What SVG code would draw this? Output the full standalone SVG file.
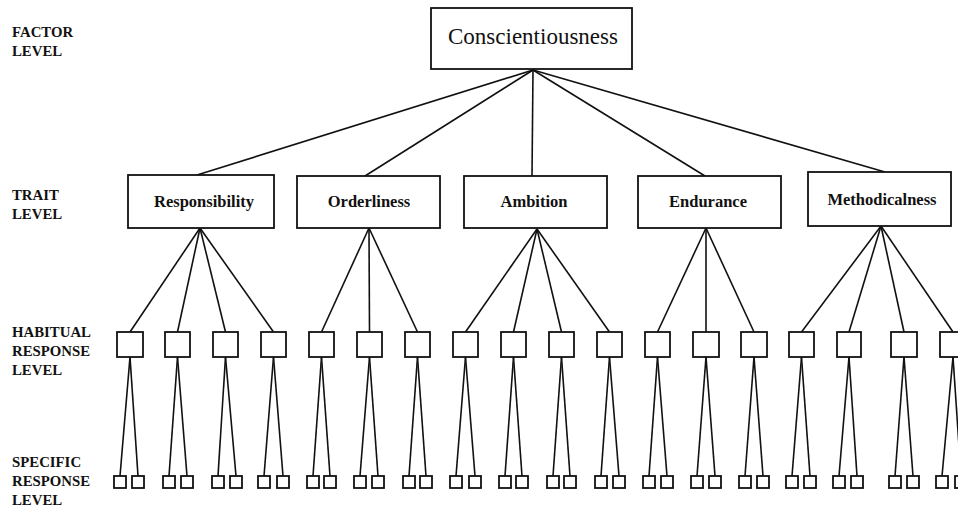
<svg xmlns="http://www.w3.org/2000/svg" width="958" height="508" viewBox="0 0 958 508">
<style>
.box{fill:#fff;stroke:#111;stroke-width:1.8}
.lbl{font-family:"Liberation Serif","Times New Roman",serif;font-size:14.8px;font-weight:bold;fill:#111}
.trait{font-family:"Liberation Serif","Times New Roman",serif;font-size:16.5px;font-weight:bold;fill:#111;text-anchor:middle}
.top{font-family:"Liberation Serif","Times New Roman",serif;font-size:23px;fill:#111;text-anchor:middle}
.conn line{stroke:#111;stroke-width:1.6}
</style>
<rect width="958" height="508" fill="#fff"/>
<g id="level-labels">
<text class="lbl" x="12" y="37">FACTOR</text>
<text class="lbl" x="12" y="56">LEVEL</text>
<text class="lbl" x="12" y="200">TRAIT</text>
<text class="lbl" x="12" y="219">LEVEL</text>
<text class="lbl" x="12" y="337">HABITUAL</text>
<text class="lbl" x="12" y="356">RESPONSE</text>
<text class="lbl" x="12" y="375">LEVEL</text>
<text class="lbl" x="12" y="467">SPECIFIC</text>
<text class="lbl" x="12" y="486">RESPONSE</text>
<text class="lbl" x="12" y="505">LEVEL</text>
</g>
<g class="conn" id="connectors">
<line x1="533" y1="70" x2="197" y2="175"/>
<line x1="533" y1="70" x2="365" y2="176"/>
<line x1="533" y1="70" x2="532" y2="176"/>
<line x1="533" y1="70" x2="705" y2="176"/>
<line x1="533" y1="70" x2="885" y2="172"/>
<line x1="200" y1="228" x2="130" y2="332"/>
<line x1="200" y1="228" x2="177.5" y2="332"/>
<line x1="200" y1="228" x2="225.5" y2="332"/>
<line x1="200" y1="228" x2="273.5" y2="332"/>
<line x1="369" y1="228" x2="321.5" y2="332"/>
<line x1="369" y1="228" x2="369.5" y2="332"/>
<line x1="369" y1="228" x2="417.5" y2="332"/>
<line x1="537" y1="229" x2="465.5" y2="332"/>
<line x1="537" y1="229" x2="513.5" y2="332"/>
<line x1="537" y1="229" x2="561.5" y2="332"/>
<line x1="537" y1="229" x2="609.5" y2="332"/>
<line x1="706" y1="228" x2="657.5" y2="332"/>
<line x1="706" y1="228" x2="706" y2="332"/>
<line x1="706" y1="228" x2="754" y2="332"/>
<line x1="881" y1="226" x2="801.5" y2="332"/>
<line x1="881" y1="226" x2="849" y2="332"/>
<line x1="881" y1="226" x2="904" y2="332"/>
<line x1="881" y1="226" x2="953" y2="332"/>
<line x1="130" y1="357" x2="120" y2="476"/><line x1="130" y1="357" x2="138" y2="476"/>
<line x1="177.5" y1="357" x2="169" y2="476"/><line x1="177.5" y1="357" x2="187" y2="476"/>
<line x1="225.5" y1="357" x2="218" y2="476"/><line x1="225.5" y1="357" x2="236" y2="476"/>
<line x1="273.5" y1="357" x2="264" y2="476"/><line x1="273.5" y1="357" x2="283" y2="476"/>
<line x1="321.5" y1="357" x2="313" y2="476"/><line x1="321.5" y1="357" x2="330" y2="476"/>
<line x1="369.5" y1="357" x2="360" y2="476"/><line x1="369.5" y1="357" x2="378" y2="476"/>
<line x1="417.5" y1="357" x2="409" y2="476"/><line x1="417.5" y1="357" x2="426" y2="476"/>
<line x1="465.5" y1="357" x2="456" y2="476"/><line x1="465.5" y1="357" x2="475" y2="476"/>
<line x1="513.5" y1="357" x2="505" y2="476"/><line x1="513.5" y1="357" x2="522" y2="476"/>
<line x1="561.5" y1="357" x2="553" y2="476"/><line x1="561.5" y1="357" x2="570" y2="476"/>
<line x1="609.5" y1="357" x2="601" y2="476"/><line x1="609.5" y1="357" x2="619" y2="476"/>
<line x1="657.5" y1="357" x2="649" y2="476"/><line x1="657.5" y1="357" x2="667" y2="476"/>
<line x1="706" y1="357" x2="697" y2="476"/><line x1="706" y1="357" x2="715" y2="476"/>
<line x1="754" y1="357" x2="745" y2="476"/><line x1="754" y1="357" x2="763" y2="476"/>
<line x1="801.5" y1="357" x2="792" y2="476"/><line x1="801.5" y1="357" x2="810" y2="476"/>
<line x1="849" y1="357" x2="839" y2="476"/><line x1="849" y1="357" x2="857" y2="476"/>
<line x1="904" y1="357" x2="895" y2="476"/><line x1="904" y1="357" x2="913" y2="476"/>
<line x1="953" y1="357" x2="942" y2="476"/><line x1="953" y1="357" x2="961" y2="476"/>
</g>
<g id="factor-conscientiousness">
<rect class="box" x="431" y="8" width="201" height="61"/>
<text class="top" x="533" y="44">Conscientiousness</text>
</g>
<g id="trait-responsibility">
<rect class="box" x="128" y="175" width="146" height="53"/>
<text class="trait" x="204" y="207">Responsibility</text>
</g>
<g id="trait-orderliness">
<rect class="box" x="297" y="176" width="143" height="52"/>
<text class="trait" x="369" y="207">Orderliness</text>
</g>
<g id="trait-ambition">
<rect class="box" x="464" y="176" width="143" height="52"/>
<text class="trait" x="534" y="207">Ambition</text>
</g>
<g id="trait-endurance">
<rect class="box" x="638" y="176" width="143" height="52"/>
<text class="trait" x="708" y="207">Endurance</text>
</g>
<g id="trait-methodicalness">
<rect class="box" x="808" y="172" width="143" height="54"/>
<text class="trait" x="882" y="205">Methodicalness</text>
</g>
<g id="habitual-responses">
<rect class="box" x="117" y="332" width="26" height="25"/>
<rect class="box" x="165" y="332" width="25" height="25"/>
<rect class="box" x="213" y="332" width="25" height="25"/>
<rect class="box" x="261" y="332" width="25" height="25"/>
<rect class="box" x="309" y="332" width="25" height="25"/>
<rect class="box" x="357" y="332" width="25" height="25"/>
<rect class="box" x="405" y="332" width="25" height="25"/>
<rect class="box" x="453" y="332" width="25" height="25"/>
<rect class="box" x="501" y="332" width="25" height="25"/>
<rect class="box" x="549" y="332" width="25" height="25"/>
<rect class="box" x="597" y="332" width="25" height="25"/>
<rect class="box" x="645" y="332" width="25" height="25"/>
<rect class="box" x="693" y="332" width="26" height="25"/>
<rect class="box" x="741" y="332" width="26" height="25"/>
<rect class="box" x="789" y="332" width="25" height="25"/>
<rect class="box" x="837" y="332" width="24" height="25"/>
<rect class="box" x="891" y="332" width="26" height="25"/>
<rect class="box" x="940" y="332" width="26" height="25"/>
</g>
<g id="specific-responses">
<rect class="box" x="114" y="476" width="12" height="12"/><rect class="box" x="132" y="476" width="12" height="12"/>
<rect class="box" x="163" y="476" width="12" height="12"/><rect class="box" x="181" y="476" width="12" height="12"/>
<rect class="box" x="212" y="476" width="12" height="12"/><rect class="box" x="230" y="476" width="12" height="12"/>
<rect class="box" x="258" y="476" width="12" height="12"/><rect class="box" x="277" y="476" width="12" height="12"/>
<rect class="box" x="307" y="476" width="12" height="12"/><rect class="box" x="324" y="476" width="12" height="12"/>
<rect class="box" x="354" y="476" width="12" height="12"/><rect class="box" x="372" y="476" width="12" height="12"/>
<rect class="box" x="403" y="476" width="12" height="12"/><rect class="box" x="420" y="476" width="12" height="12"/>
<rect class="box" x="450" y="476" width="12" height="12"/><rect class="box" x="469" y="476" width="12" height="12"/>
<rect class="box" x="499" y="476" width="12" height="12"/><rect class="box" x="516" y="476" width="12" height="12"/>
<rect class="box" x="547" y="476" width="12" height="12"/><rect class="box" x="564" y="476" width="12" height="12"/>
<rect class="box" x="595" y="476" width="12" height="12"/><rect class="box" x="613" y="476" width="12" height="12"/>
<rect class="box" x="643" y="476" width="12" height="12"/><rect class="box" x="661" y="476" width="12" height="12"/>
<rect class="box" x="691" y="476" width="12" height="12"/><rect class="box" x="709" y="476" width="12" height="12"/>
<rect class="box" x="739" y="476" width="12" height="12"/><rect class="box" x="757" y="476" width="12" height="12"/>
<rect class="box" x="786" y="476" width="12" height="12"/><rect class="box" x="804" y="476" width="12" height="12"/>
<rect class="box" x="833" y="476" width="12" height="12"/><rect class="box" x="851" y="476" width="12" height="12"/>
<rect class="box" x="889" y="476" width="12" height="12"/><rect class="box" x="907" y="476" width="12" height="12"/>
<rect class="box" x="936" y="476" width="12" height="12"/><rect class="box" x="955" y="476" width="12" height="12"/>
</g>
</svg>
